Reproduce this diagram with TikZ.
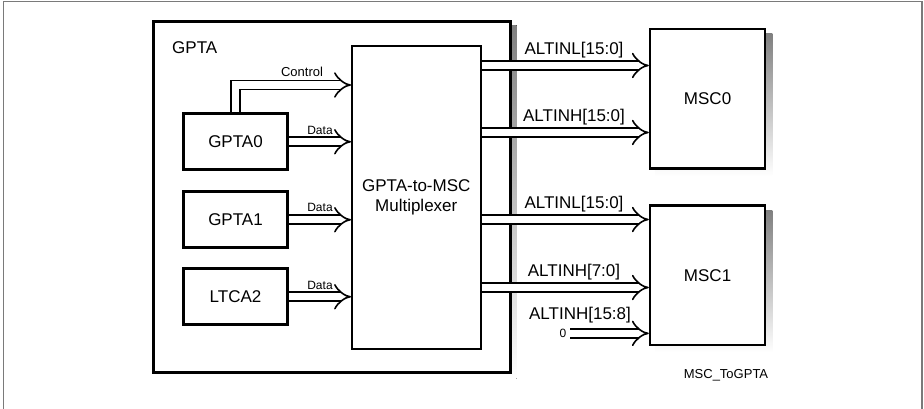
\documentclass[tikz,border=0pt]{standalone}
\usepackage{fontspec}
\setmainfont{Liberation Sans}
\usetikzlibrary{arrows.meta,positioning,backgrounds,calc}
\definecolor{shade}{HTML}{a8a8a8}
\definecolor{rim}{HTML}{7a7a7a}

\begin{document}
\begin{tikzpicture}[
  x=1pt, y=-1pt,
  outer/.style={rectangle, draw, fill=white, line width=3pt, inner sep=0pt,
                minimum width=357pt, minimum height=350pt},
  blk/.style={rectangle, draw, line width=3pt, inner sep=0pt,
              minimum width=104pt, minimum height=56pt,
              font=\fontsize{17}{20}\selectfont},
  mux/.style={rectangle, draw, fill=white, line width=2pt, inner sep=0pt,
              minimum width=128.5pt, minimum height=303pt, align=center,
              font=\fontsize{17}{20}\selectfont},
  msc/.style={rectangle, draw, fill=white, line width=2.6pt, inner sep=0pt,
              minimum width=115pt, minimum height=139.5pt,
              font=\fontsize{17}{20}\selectfont},
  bus/.style={double, double distance=7.4pt, line width=1.6pt, -{Implies}},
  lbl/.style={font=\fontsize{17}{20}\selectfont, anchor=base, inner sep=0pt},
  tag/.style={font=\fontsize{12}{14}\selectfont, anchor=base, inner sep=0pt},
]
  \useasboundingbox (0,0) rectangle (924,409);
  \draw[rim, line width=1.5pt] (3.5,409) -- (3.5,1.5) -- (922,1.5) -- (922,409);

  % GPTA side
  \node[outer](gpta) at (331.5,197) {};
  \node[lbl, anchor=base west](gptatxt) at (172,53.3) {GPTA};
  \node[mux](mx) at (416.25,197.5) {GPTA-to-MSC\\Multiplexer};
  \node[blk](g0) at (235.5,141.75) {GPTA0};
  \node[blk, below=19pt of g0](g1) {GPTA1};
  \node[blk, below=18pt of g1](lt) {LTCA2};

  % MSC side
  \node[msc](m0) at (707.6,98.75) {MSC0};
  \node[msc, below=34.5pt of m0](m1) {MSC1};

  % shadows
  \begin{scope}[on background layer]
    \fill[shade]($(gpta.north west)+(5,5)$) rectangle ($(gpta.south east)+(5,5)$);
    \fill[shade]($(m0.north west)+(6,6)$) rectangle ($(m0.south east)+(6,6)$);
    \fill[shade]($(m1.north west)+(6,6)$) rectangle ($(m1.south east)+(6,6)$);
  \end{scope}

  % bus rows
  \coordinate (rctl) at (0,85);
  \coordinate (ra) at (0,65.5); \coordinate (rb) at (0,132.5);
  \coordinate (rc) at (0,219.5); \coordinate (rd) at (0,287.5);

  \draw[bus](g0.north) |- (mx.west |- rctl);
  \draw[bus](g0.east) -- (g0.east -| mx.west);
  \draw[bus](g1.east) -- (g1.east -| mx.west);
  \draw[bus](lt.east) -- (lt.east -| mx.west);
  \node[tag, font=\fontsize{13}{15}\selectfont](ctl) at (302,76.7) {Control};
  \node[tag](d0) at (320,135) {Data};
  \node[tag](d1) at (320,211.7) {Data};
  \node[tag](d2) at (320,289) {Data};

  \draw[bus](mx.east |- ra) -- (m0.west |- ra);
  \draw[bus](mx.east |- rb) -- (m0.west |- rb);
  \draw[bus](mx.east |- rc) -- (m1.west |- rc);
  \draw[bus](mx.east |- rd) -- (m1.west |- rd);
  \node[lbl](la) at (574,55) {ALTINL[15:0]};
  \node[lbl](lb) at (574,122) {ALTINH[15:0]};
  \node[lbl](lc) at (574,208) {ALTINL[15:0]};
  \node[lbl](ld) at (574,276) {ALTINH[7:0]};
  \node[lbl](le) at (580,319) {ALTINH[15:8]};
  \node[tag, inner sep=3.5pt](zero) at (563,337.5) {0};
  \draw[bus](zero.east) -- (zero.east -| m1.west);

  \node[tag, font=\fontsize{13}{15}\selectfont](fig) at (726,378) {MSC\_ToGPTA};
\end{tikzpicture}
\end{document}
